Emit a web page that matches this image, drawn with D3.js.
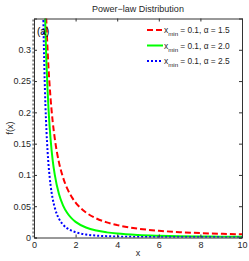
<!DOCTYPE html>
<html><head><meta charset="utf-8">
<script src="https://cdn.jsdelivr.net/npm/d3@7"></script>
<style>body{margin:0;background:#fff}svg{display:block;font-family:"Liberation Sans",Arial,sans-serif}</style>
</head><body>
<svg id="c" width="249" height="261"></svg>
<script>
const xVals = [0.4,0.45,0.5,0.55,0.6,0.65,0.7,0.8,0.9,1.0,1.2,1.4,1.6,1.8,2,2.5,3,3.5,4,5,6,7,8,9,10];
const red15 = [0.625,0.524,0.447,0.388,0.340,0.302,0.270,0.221,0.185,0.158,0.120,0.0955,0.0781,0.0655,0.0559,0.0400,0.0304,0.0241,0.0198,0.0141,0.0108,0.0085,0.0070,0.0059,0.0050];
const green20 = [0.625,0.494,0.400,0.331,0.278,0.237,0.204,0.156,0.123,0.100,0.0694,0.0510,0.0391,0.0309,0.025,0.016,0.0111,0.0082,0.00625,0.004,0.0028,0.0020,0.0016,0.0012,0.001];
const blue25 = [0.469,0.349,0.268,0.211,0.170,0.139,0.1157,0.0829,0.0617,0.0474,0.0301,0.0205,0.0146,0.0109,0.0084,0.0048,0.0030,0.0021,0.0015,0.00085,0.00054,0.00037,0.00026,0.0002,0.00015];
const seriesLabels = ["= 0.1, α = 1.5","= 0.1, α = 2.0","= 0.1, α = 2.5"];
const xTicks = [0,2,4,6,8,10];
const yTicks = [0,0.05,0.1,0.15,0.2,0.25,0.3];

const svg = d3.select("#c");
const L=34,R=242,T=18.5,B=237.5;
const x = d3.scaleLinear().domain([0,10]).range([L,R]);
const y = d3.scaleLinear().domain([0,0.35]).range([B,T]);
const axCol="#333", txtCol="#262626";

svg.append("defs").append("clipPath").attr("id","clp").append("rect")
  .attr("x",L-3).attr("y",T).attr("width",R-L+3).attr("height",B-T);

const series = [
  {v:red15,c:"#ff0000",dash:"6,3",w:2},
  {v:green20,c:"#00ff00",dash:null,w:2},
  {v:blue25,c:"#0000ff",dash:"2,2",w:2}
];
const g = svg.append("g").attr("clip-path","url(#clp)");
g.append("line").attr("x1",x(0)-0.5).attr("x2",x(0)-0.5).attr("y1",y(0)).attr("y2",y(0.35))
  .attr("stroke","#888").attr("stroke-width",2.5).attr("stroke-dasharray","2,2");
const line = d3.line().x((d,i)=>x(xVals[i])).y(d=>y(d)).curve(d3.curveMonotoneX);
series.forEach(s=>{
  g.append("path").datum(s.v).attr("d",line).attr("fill","none")
   .attr("stroke",s.c).attr("stroke-width",s.w).attr("stroke-dasharray",s.dash);
});

const fs=9;
const axBottom = d3.axisBottom(x).tickValues(xTicks).tickSize(-3).tickPadding(4).tickFormat(d3.format("d"));
const axLeft = d3.axisLeft(y).tickValues(yTicks).tickSize(-3).tickPadding(3).tickFormat(d=>d===0?"0":String(+d.toFixed(2)));
const axTop = d3.axisTop(x).tickValues(xTicks).tickSize(-3).tickFormat("");
const axRight = d3.axisRight(y).tickValues(yTicks).tickSize(-3).tickFormat("");
[[axBottom,`translate(0,${B})`],[axLeft,`translate(${L},0)`],[axTop,`translate(0,${T})`],[axRight,`translate(${R},0)`]].forEach(([a,t])=>{
  const gg = svg.append("g").attr("transform",t).call(a);
  gg.selectAll("path,line").attr("stroke",axCol);
  gg.selectAll("text").attr("fill",txtCol).attr("font-size",fs).attr("font-family","Liberation Sans, Arial, sans-serif");
});

svg.append("text").attr("x",(L+R)/2).attr("y",12).attr("text-anchor","middle")
  .attr("font-size",9).attr("fill",txtCol).text("Power\u2212law Distribution");
svg.append("text").attr("x",(L+R)/2).attr("y",256).attr("text-anchor","middle")
  .attr("font-size",9).attr("fill",txtCol).text("x");
svg.append("text").attr("transform",`translate(13,${(T+B)/2}) rotate(-90)`).attr("text-anchor","middle")
  .attr("font-size",9).attr("fill",txtCol).text("f(x)");
svg.append("text").attr("x",37).attr("y",35).attr("font-size",10).attr("fill","#000").text("(a)");

const rows=[30,45.5,61];
series.forEach((s,i)=>{
  svg.append("line").attr("x1",147).attr("x2",163).attr("y1",rows[i]).attr("y2",rows[i])
    .attr("stroke",s.c).attr("stroke-width",2).attr("stroke-dasharray",s.dash);
  const t = svg.append("text").attr("x",164).attr("y",rows[i]+3).attr("font-size",8.4).attr("fill",txtCol);
  t.append("tspan").text("x");
  t.append("tspan").attr("dy",3).attr("font-size",6.2).text("min");
  t.append("tspan").attr("dy",-3).attr("dx",2).text(seriesLabels[i]);
});
</script>
</body></html>
